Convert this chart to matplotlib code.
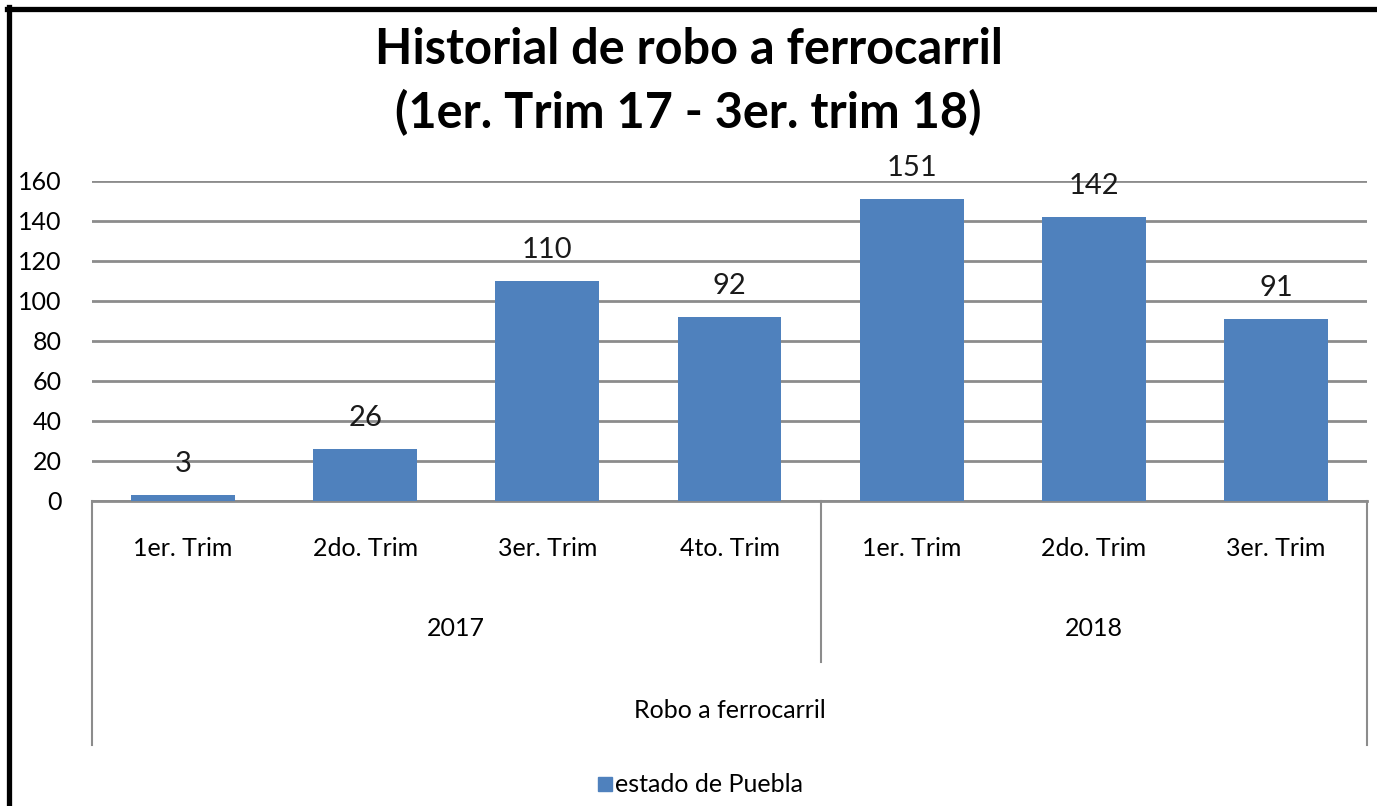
import matplotlib
matplotlib.use("Agg")
import matplotlib.pyplot as plt
from matplotlib.lines import Line2D

plt.rcParams["font.family"] = ["Lato", "DejaVu Sans"]

quarters = ["1er. Trim", "2do. Trim", "3er. Trim", "4to. Trim", "1er. Trim", "2do. Trim", "3er. Trim"]
years = ["2017", "2018"]
year_counts = [4, 3]
group_label = "Robo a ferrocarril"
values = [3, 26, 110, 92, 151, 142, 91]
series_name = "estado de Puebla"

BAR_COLOR = "#4F81BD"
GRID_COLOR = "#8C8C8C"
W, H = 1377, 806
FS = 18

fig = plt.figure(figsize=(W / 100, H / 100), dpi=100)
ax = fig.add_axes([92 / W, (H - 501) / H, 1275 / W, 320 / H])

x = list(range(len(values)))
ax.bar(x, values, width=0.57, color=BAR_COLOR, zorder=3)
for xi, v in zip(x, values):
    ax.annotate(str(v), (xi, v), xytext=(0, 13), textcoords="offset points",
                ha="center", va="bottom", fontsize=21, color="#1a1a1a", clip_on=False)

ax.set_xlim(-0.5, len(values) - 0.5)
ax.set_ylim(0, 160)
ax.set_yticks(range(0, 161, 20))
ax.yaxis.grid(True, color=GRID_COLOR, linewidth=2, zorder=0)
ax.set_axisbelow(True)
ax.tick_params(axis="y", length=0, labelsize=FS, pad=22)
ax.tick_params(axis="x", length=0)
ax.set_xticks([])
for s in ["top", "right", "left"]:
    ax.spines[s].set_visible(False)
ax.spines["bottom"].set_color(GRID_COLOR)
ax.spines["bottom"].set_linewidth(2)

# multi-level category axis
tr = ax.get_xaxis_transform()
line_kw = dict(color=GRID_COLOR, linewidth=1.5, transform=tr, clip_on=False)
ax.plot([-0.5, -0.5], [0, -0.7625], **line_kw)
ax.plot([len(values) - 0.5] * 2, [0, -0.7625], **line_kw)
start = 0
for yr, n in zip(years, year_counts):
    end = start + n
    if end < len(values):
        ax.plot([end - 0.5] * 2, [0, -0.503], **line_kw)
    ax.text((start + end - 1) / 2, -0.40, yr, transform=tr, ha="center", va="center", fontsize=FS)
    start = end
for xi, q in zip(x, quarters):
    ax.text(xi, -0.15, q, transform=tr, ha="center", va="center", fontsize=FS)
ax.text((len(values) - 1) / 2, -0.655, group_label, transform=tr, ha="center", va="center", fontsize=FS)

fig.text(0.5, (H - 50) / H, "Historial de robo a ferrocarril", ha="center", va="center",
         fontsize=35, fontweight="bold")
fig.text(0.5, (H - 113) / H, "(1er. Trim 17 - 3er. trim 18)", ha="center", va="center",
         fontsize=35, fontweight="bold")

handle = Line2D([], [], marker="s", linestyle="", color=BAR_COLOR, markersize=10)
fig.legend([handle], [series_name], loc="center", bbox_to_anchor=(700 / W, (H - 785) / H),
           frameon=False, fontsize=FS, handletextpad=0.1, handlelength=0.6)

# outer frame (top and left edges visible)
fig.add_artist(Line2D([7 / W, 1], [(H - 9) / H] * 2, color="black", linewidth=3.8))
fig.add_artist(Line2D([9 / W] * 2, [0, (H - 7) / H], color="black", linewidth=3.8))

fig.savefig("out.png", dpi=100)
